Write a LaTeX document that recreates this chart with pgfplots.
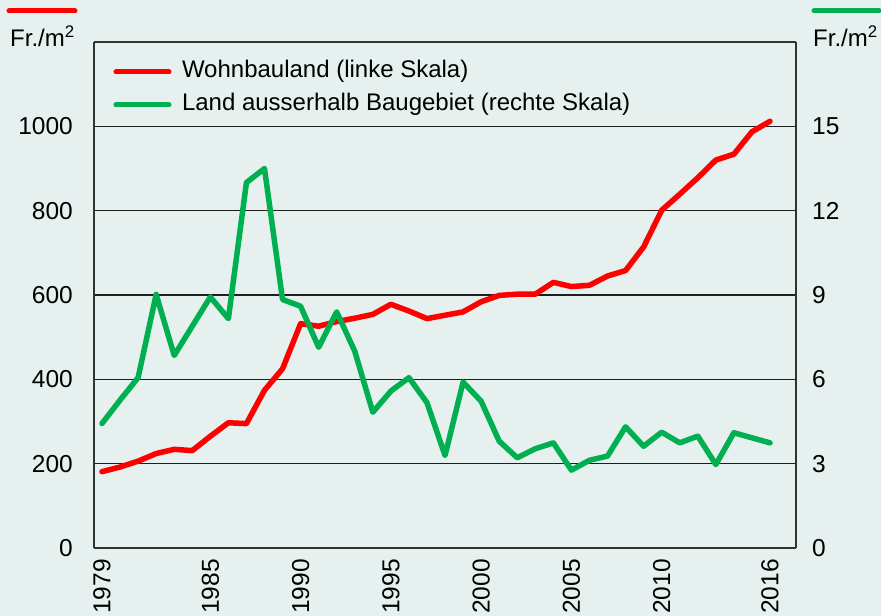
\documentclass[border=0pt]{standalone}
\usepackage{pgfplots}
\pgfplotsset{compat=1.18}
\usepackage{fontspec}
\setmainfont{Liberation Sans}
\definecolor{bg}{RGB}{229,240,239}
\definecolor{myred}{RGB}{255,0,0}
\definecolor{mygreen}{RGB}{0,176,80}
\definecolor{axcol}{RGB}{50,50,50}
\definecolor{gridcol}{RGB}{30,30,30}
\begin{document}
\begin{tikzpicture}
\fontsize{24bp}{28bp}\selectfont
\fill[bg] (-94bp,-68bp) rectangle (787bp,548bp);
\useasboundingbox (-94bp,-68bp) rectangle (787bp,548bp);
\pgfplotsset{
  common/.style={
    scale only axis, width=702bp, height=506bp,
    xmin=1978.557, xmax=2017.44,
    /pgf/number format/assume math mode=true,
    /pgf/number format/set thousands separator={},
    /pgf/number format/1000 sep={},
    ticklabel style={font=\fontsize{24.5bp}{28bp}\selectfont, inner sep=0pt},
    major tick length=0pt,
    axis line style={axcol, line width=1.3bp},
    every axis plot/.append style={line width=5.5bp, line join=round, line cap=round},
  }
}
\begin{axis}[common,
  ymin=0, ymax=1200,
  ytick={0,200,400,600,800,1000},
  xtick={1979,1985,1990,1995,2000,2005,2010,2016},
  xticklabel style={yshift=-11bp, rotate=90, anchor=east},
  yticklabel style={anchor=east, xshift=-21bp},
  ymajorgrids, grid style={gridcol, line width=1.2bp},
  axis y line*=left, axis x line*=bottom,
  clip=false,
]
\addplot[myred] coordinates {
(1979,181) (1980,192) (1981,206) (1982,224) (1983,234) (1984,231)
(1985,265) (1986,297) (1987,295) (1988,374) (1989,425) (1990,532)
(1991,526) (1992,537) (1993,545) (1994,554) (1995,578) (1996,562)
(1997,544) (1998,552) (1999,560) (2000,584) (2001,599) (2002,602)
(2003,602) (2004,630) (2005,620) (2006,623) (2007,645) (2008,658)
(2009,714) (2010,801) (2011,839) (2012,878) (2013,920) (2014,934)
(2015,987) (2016,1012)
};
\end{axis}
\begin{axis}[common,
  ymin=0, ymax=18,
  ytick={0,3,6,9,12,15},
  axis y line*=right, axis x line=none,
  yticklabel style={anchor=west, xshift=16bp},
  legend style={at={(19.5bp,487bp)}, anchor=north west, draw=none, fill=none,
    inner sep=0pt, outer sep=0pt,
    font=\fontsize{24bp}{28bp}\selectfont,
    nodes={inner sep=0pt, text height=17bp, text depth=5bp},
    row sep=11bp, column sep=10.5bp},
  legend cell align=left,
  legend image code/.code={\draw[#1, line width=5bp, line cap=round] (0bp,0bp) -- (53bp,0bp);},
]
\addlegendimage{myred}
\addlegendentry{Wohnbauland (linke Skala)}
\addplot[mygreen] coordinates {
(1979,4.43) (1980,5.26) (1981,6.06) (1982,9.02) (1983,6.85) (1984,7.89)
(1985,8.93) (1986,8.16) (1987,13.0) (1988,13.5) (1989,8.84) (1990,8.6)
(1991,7.14) (1992,8.4) (1993,7.0) (1994,4.83) (1995,5.58) (1996,6.06)
(1997,5.17) (1998,3.29) (1999,5.9) (2000,5.22) (2001,3.8) (2002,3.21)
(2003,3.53) (2004,3.74) (2005,2.77) (2006,3.12) (2007,3.27) (2008,4.31)
(2009,3.62) (2010,4.12) (2011,3.74) (2012,3.98) (2013,2.97) (2014,4.1)
(2015,3.92) (2016,3.74)
};
\addlegendentry{Land ausserhalb Baugebiet (rechte Skala)}
\end{axis}
\draw[axcol, line width=1.3bp] (0,506bp) -- (702bp,506bp);
\draw[myred, line width=5bp, line cap=round] (-85bp,537bp) -- (-19bp,537bp);
\draw[mygreen, line width=5bp, line cap=round] (720bp,537bp) -- (785bp,537bp);
\node[anchor=base west, inner sep=0pt] at (-84bp,501bp) {Fr./m\textsuperscript{2}};
\node[anchor=base west, inner sep=0pt] at (719bp,501bp) {Fr./m\textsuperscript{2}};
\end{tikzpicture}
\end{document}
